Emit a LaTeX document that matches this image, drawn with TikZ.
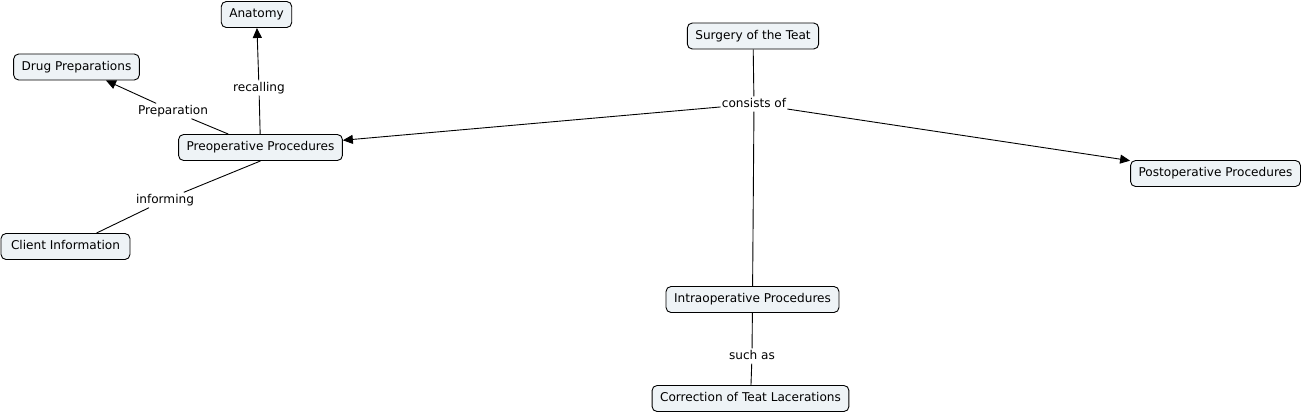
\documentclass[tikz,border=0pt]{standalone}
\usepackage{fontspec}
\setmainfont{DejaVu Sans}
\usetikzlibrary{arrows.meta}
\definecolor{boxfill}{RGB}{238,243,246}
\begin{document}
\begin{tikzpicture}[x=1pt,y=-1pt,
  concept/.style={draw=black, fill=boxfill, rounded corners=5pt, line width=0.9pt,
    font=\fontsize{12.1}{14}\selectfont, text height=9pt, text depth=3pt,
    inner xsep=8pt, inner ysep=7pt},
  linkword/.style={font=\fontsize{12.1}{14}\selectfont, text height=9pt, text depth=3pt,
    inner xsep=1pt, inner ysep=1.5pt},
  conn/.style={draw=black, line width=0.9pt},
  arr/.style={conn, -{Triangle[length=10pt,width=9pt]}}]
\useasboundingbox (0,0) rectangle (1302,413);
% concepts
\node[concept] (anat) at (256.5,14.5) {Anatomy};
\node[concept] (drug) at (76.5,67) {Drug Preparations};
\node[concept] (pre) at (260.5,147.5) {Preoperative Procedures};
\node[concept, inner xsep=10pt] (client) at (65.5,246.5) {Client Information};
\node[concept] (surg) at (753,36) {Surgery of the Teat};
\node[concept] (post) at (1215.5,173.5) {Postoperative Procedures};
\node[concept] (intra) at (752.5,299.5) {Intraoperative Procedures};
\node[concept] (corr) at (750.5,398.5) {Correction of Teat Lacerations};
% linking words
\node[linkword] (recall) at (259,88) {recalling};
\node[linkword] (prep) at (173,111) {Preparation};
\node[linkword] (inform) at (165,200) {informing};
\node[linkword] (cons) at (754,104) {consists of};
\node[linkword] (such) at (752,356) {such as};
% connectors
\draw[conn] (pre) -- (recall);
\draw[arr] (recall) -- (anat);
\draw[conn] (pre) -- (prep);
\draw[arr] (prep) -- (drug);
\draw[conn] (pre.south) -- (inform);
\draw[conn] (inform) -- ([xshift=31pt]client.north);
\draw[conn] (surg) -- (cons);
\draw[arr] (cons) -- (pre);
\draw[arr] (cons) -- (post);
\draw[conn] (cons) -- (intra);
\draw[conn] (intra) -- (such);
\draw[conn] (such) -- (corr);
\end{tikzpicture}
\end{document}
